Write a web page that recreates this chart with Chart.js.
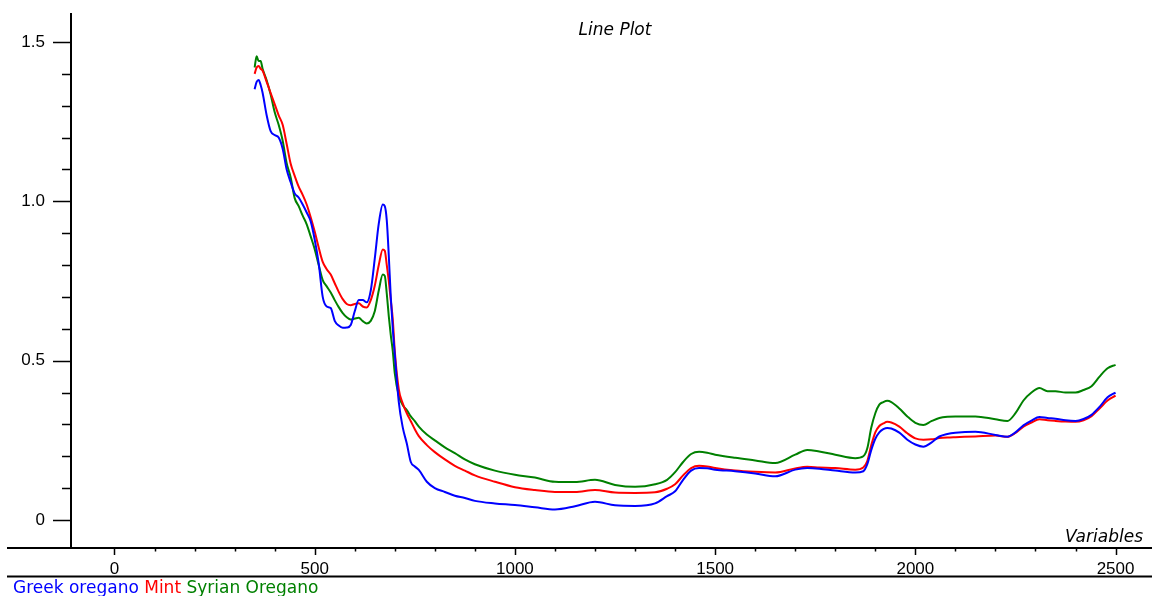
<!DOCTYPE html>
<html>
<head>
<meta charset="utf-8">
<script src="https://cdn.jsdelivr.net/npm/chart.js@4.4.1/dist/chart.umd.min.js"></script>
<style>
  html, body { margin: 0; padding: 0; background: #fff; }
  #wrap { width: 1152px; height: 596px; position: relative; }
</style>
</head>
<body>
<div id="wrap"><canvas id="linePlot"></canvas></div>
<script>
// wavelengths (Variables)
const wavelengths = [350, 355, 360, 365, 370, 380, 390, 400, 410, 420, 430, 440, 450, 460, 470, 480, 490, 500,
  510, 520, 530, 540, 550, 560, 570, 580, 590, 600, 610, 620, 630, 640, 650, 660, 670, 675, 680, 685, 690, 695,
  700, 710, 720, 730, 740, 750, 760, 780, 800, 825, 850, 875, 900, 950, 1000, 1050, 1100, 1150, 1200, 1250,
  1300, 1350, 1380, 1400, 1420, 1440, 1460, 1480, 1500, 1550, 1600, 1650, 1700, 1730, 1760, 1800, 1850, 1870,
  1880, 1890, 1900, 1910, 1920, 1930, 1940, 1960, 1980, 2000, 2020, 2040, 2060, 2080, 2100, 2150, 2200, 2230,
  2250, 2270, 2290, 2310, 2330, 2350, 2375, 2400, 2420, 2440, 2460, 2480, 2500];

const greekOregano = [1.352, 1.375, 1.381, 1.365, 1.34, 1.27, 1.22, 1.208, 1.20, 1.165, 1.10, 1.06, 1.025, 1.012, 0.99, 0.965, 0.937, 0.88,
  0.805, 0.70, 0.67, 0.665, 0.625, 0.61, 0.603, 0.604, 0.612, 0.655, 0.69, 0.69, 0.683, 0.72, 0.82, 0.93, 0.99, 0.985, 0.94, 0.83, 0.70, 0.60,
  0.52, 0.37, 0.29, 0.24, 0.182, 0.168, 0.157, 0.12, 0.10, 0.088, 0.076, 0.069, 0.06, 0.052, 0.047, 0.04, 0.033, 0.043, 0.057, 0.046,
  0.044, 0.052, 0.075, 0.09, 0.126, 0.155, 0.163, 0.162, 0.158, 0.153, 0.146, 0.137, 0.158, 0.163, 0.161, 0.155, 0.149, 0.153,
  0.175, 0.22, 0.255, 0.275, 0.285, 0.289, 0.287, 0.274, 0.252, 0.237, 0.23, 0.243, 0.262, 0.27, 0.274, 0.277, 0.267, 0.261,
  0.275, 0.297, 0.312, 0.323, 0.32, 0.318, 0.313, 0.311, 0.317, 0.33, 0.355, 0.385, 0.40];

const mint = [1.40, 1.42, 1.425, 1.416, 1.41, 1.375, 1.34, 1.305, 1.27, 1.24, 1.18, 1.118, 1.08, 1.046, 1.02, 0.99, 0.95, 0.905,
  0.855, 0.81, 0.787, 0.77, 0.743, 0.716, 0.693, 0.678, 0.674, 0.678, 0.68, 0.67, 0.667, 0.69, 0.735, 0.80, 0.849, 0.845, 0.80, 0.75, 0.69, 0.63,
  0.53, 0.41, 0.365, 0.335, 0.31, 0.285, 0.263, 0.235, 0.213, 0.19, 0.17, 0.155, 0.14, 0.12, 0.103, 0.094, 0.088, 0.088, 0.094, 0.086,
  0.085, 0.087, 0.098, 0.112, 0.14, 0.163, 0.17, 0.168, 0.163, 0.155, 0.151, 0.149, 0.162, 0.167, 0.165, 0.163, 0.158, 0.165,
  0.185, 0.235, 0.275, 0.295, 0.303, 0.308, 0.306, 0.293, 0.272, 0.256, 0.252, 0.253, 0.257, 0.259, 0.26, 0.262, 0.265, 0.261,
  0.273, 0.293, 0.306, 0.316, 0.313, 0.311, 0.309, 0.308, 0.313, 0.326, 0.35, 0.375, 0.39];

const syrianOregano = [1.42, 1.455, 1.44, 1.44, 1.415, 1.38, 1.335, 1.28, 1.24, 1.19, 1.12, 1.075, 1.01, 0.985, 0.955, 0.928, 0.89, 0.85,
  0.80, 0.753, 0.733, 0.714, 0.69, 0.668, 0.649, 0.636, 0.629, 0.632, 0.635, 0.624, 0.617, 0.625, 0.655, 0.72, 0.77, 0.766, 0.71, 0.64, 0.58, 0.53,
  0.46, 0.39, 0.36, 0.345, 0.325, 0.31, 0.293, 0.268, 0.25, 0.228, 0.21, 0.19, 0.175, 0.155, 0.142, 0.133, 0.12, 0.119, 0.126, 0.11,
  0.104, 0.112, 0.126, 0.15, 0.182, 0.207, 0.214, 0.211, 0.205, 0.195, 0.187, 0.179, 0.205, 0.22, 0.215, 0.205, 0.194, 0.2,
  0.225, 0.29, 0.335, 0.362, 0.37, 0.374, 0.37, 0.35, 0.325, 0.305, 0.298, 0.31, 0.32, 0.324, 0.325, 0.325, 0.316, 0.311,
  0.335, 0.375, 0.40, 0.414, 0.404, 0.404, 0.40, 0.40, 0.408, 0.42, 0.45, 0.476, 0.487];

const seriesNames = ['Greek oregano', 'Mint', 'Syrian Oregano'];
const seriesColors = ['#0000ff', '#ff0000', '#008000'];
const xLabelTicks = [0, 500, 1000, 1500, 2000, 2500];
const yLabelTicks = [0, 0.5, 1.0, 1.5];
const xMinorStep = 100;
const yMinorStep = 0.1;

const toPoints = (ys) => ys.map((y, i) => ({ x: wavelengths[i], y: y }));
const isLabelTick = (list, v) => list.some(t => Math.abs(t - v) < 1e-6);

// every minor step between the first and last labelled tick
function tickRange(labels, step) {
    const out = [];
    const n = Math.round((labels[labels.length - 1] - labels[0]) / step);
    for (let i = 0; i <= n; i++) out.push(Math.round((labels[0] + i * step) * 1000) / 1000);
    return out;
}

// axis lines, tick marks, title, legend text
const framePlugin = {
    id: 'frame',
    afterDraw(chart) {
        const c = chart.ctx;
        const area = chart.chartArea;
        const xs = chart.scales.x, ys = chart.scales.y;
        c.save();
        c.strokeStyle = '#000';
        c.lineWidth = 2;
        c.beginPath();
        c.moveTo(area.left, area.top);
        c.lineTo(area.left, area.bottom);
        c.moveTo(7, area.bottom);
        c.lineTo(chart.width, area.bottom);
        c.moveTo(7, area.bottom + 28.5);
        c.lineTo(chart.width, area.bottom + 28.5);
        c.stroke();

        c.lineWidth = 1.5;
        c.beginPath();
        xs.ticks.forEach(t => {
            const px = Math.round(xs.getPixelForValue(t.value)) + 0.5;
            const len = isLabelTick(xLabelTicks, t.value) ? 7 : 3.5;
            c.moveTo(px, area.bottom);
            c.lineTo(px, area.bottom + len);
        });
        ys.ticks.forEach(t => {
            const py = Math.round(ys.getPixelForValue(t.value)) + 0.5;
            const len = isLabelTick(yLabelTicks, t.value) ? 18 : 9;
            c.moveTo(area.left - len, py);
            c.lineTo(area.left, py);
        });
        c.stroke();

        c.fillStyle = '#000';
        c.font = 'italic 17px "DejaVu Sans"';
        c.textAlign = 'center';
        c.textBaseline = 'alphabetic';
        c.fillText('Line Plot', 615, 35);
        c.textAlign = 'right';
        c.fillText('Variables', 1143, 542);

        c.font = '17px "DejaVu Sans"';
        c.textAlign = 'left';
        let x = 13;
        seriesNames.forEach((name, i) => {
            c.fillStyle = seriesColors[i];
            c.fillText(name, x, 593);
            x += c.measureText(name + ' ').width;
        });
        c.restore();
    }
};

const ctx = document.getElementById('linePlot');
new Chart(ctx, {
    type: 'line',
    data: {
        datasets: [
            { label: seriesNames[0], data: toPoints(greekOregano), borderColor: seriesColors[0] },
            { label: seriesNames[1], data: toPoints(mint), borderColor: seriesColors[1] },
            { label: seriesNames[2], data: toPoints(syrianOregano), borderColor: seriesColors[2] }
        ]
    },
    options: {
        responsive: true,
        maintainAspectRatio: false,
        animation: false,
        layout: { padding: { top: 13, right: 0, left: 0, bottom: 0 } },
        elements: {
            line: { borderWidth: 2, tension: 0, cubicInterpolationMode: 'monotone', fill: false },
            point: { radius: 0 }
        },
        plugins: {
            legend: { display: false },
            title: { display: false },
            tooltip: { enabled: false }
        },
        scales: {
            x: {
                type: 'linear',
                min: -108.6,
                max: 2591,
                afterBuildTicks: (s) => { s.ticks = tickRange(xLabelTicks, xMinorStep).map(v => ({ value: v })); },
                afterFit: (s) => { s.height = 48; s.paddingLeft = 0; s.paddingRight = 0; },
                border: { display: false },
                grid: { drawOnChartArea: false, drawTicks: false },
                ticks: {
                    autoSkip: false,
                    maxRotation: 0,
                    padding: 11,
                    color: '#000',
                    font: { family: '"Liberation Sans", Arial', size: 17 },
                    callback: (v) => isLabelTick(xLabelTicks, v) ? String(Math.round(v)) : ''
                }
            },
            y: {
                type: 'linear',
                min: -0.0879,
                max: 1.591,
                afterBuildTicks: (s) => { s.ticks = tickRange(yLabelTicks, yMinorStep).map(v => ({ value: v })); },
                afterFit: (s) => { s.width = 71; s.paddingTop = 0; s.paddingBottom = 0; },
                border: { display: false },
                grid: { drawOnChartArea: false, drawTicks: false },
                ticks: {
                    autoSkip: false,
                    padding: 26,
                    color: '#000',
                    font: { family: '"Liberation Sans", Arial', size: 17 },
                    callback: (v) => {
                        if (!isLabelTick(yLabelTicks, v)) return '';
                        return Math.abs(v) < 1e-6 ? '0' : v.toFixed(1);
                    }
                }
            }
        }
    },
    plugins: [framePlugin]
});
</script>
</body>
</html>
